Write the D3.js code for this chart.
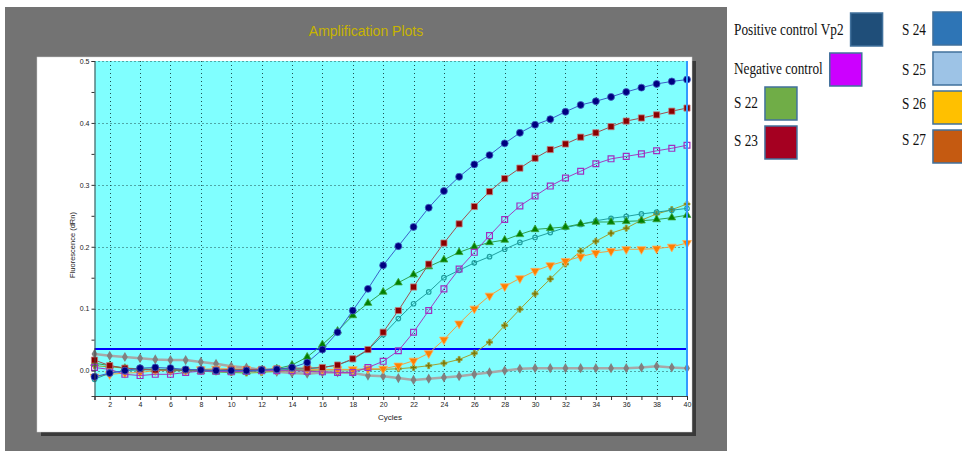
<!DOCTYPE html>
<html>
<head>
<meta charset="utf-8">
<script src="https://cdn.jsdelivr.net/npm/d3@7"></script>
<style>
  html, body { margin: 0; padding: 0; background: #ffffff; }
  svg { display: block; }
</style>
</head>
<body>
<svg id="chart" width="962" height="451"></svg>
<script>
// Amplification plot: fluorescence (dRn) per cycle for each well
const cycles = d3.range(1, 41);

const posCtrlVp2 = [-0.010,-0.004,0.000,0.004,0.005,0.004,0.002,0.001,0.000,0.000,
  0.000,0.001,0.002,0.005,0.013,0.034,0.062,0.097,0.132,0.170,
  0.201,0.232,0.263,0.290,0.313,0.333,0.348,0.367,0.384,0.397,
  0.406,0.418,0.429,0.435,0.442,0.450,0.457,0.463,0.467,0.470];
const negCtrl = [0.027,0.024,0.022,0.020,0.018,0.017,0.017,0.014,0.011,0.007,
  0.005,0.001,-0.002,-0.004,-0.005,-0.003,-0.003,-0.004,-0.008,-0.009,
  -0.012,-0.015,-0.013,-0.011,-0.009,-0.006,-0.003,0.000,0.003,0.004,
  0.004,0.004,0.004,0.004,0.004,0.004,0.005,0.007,0.005,0.004];
const s22 = [0.012,0.008,0.004,0.003,0.002,0.001,0.000,-0.001,-0.002,-0.002,
  -0.002,0.000,0.003,0.009,0.022,0.042,0.064,0.089,0.109,0.127,
  0.142,0.155,0.168,0.179,0.191,0.200,0.207,0.211,0.220,0.228,
  0.230,0.232,0.237,0.240,0.240,0.241,0.242,0.244,0.247,0.251];
const s23 = [0.017,0.008,0.004,0.002,0.001,0.001,0.001,0.001,0.001,0.002,
  0.002,0.002,0.003,0.004,0.004,0.005,0.009,0.019,0.034,0.062,
  0.097,0.135,0.172,0.206,0.237,0.265,0.289,0.310,0.327,0.343,
  0.357,0.366,0.377,0.384,0.394,0.403,0.408,0.413,0.419,0.424];
const s24 = [-0.014,-0.004,0.000,0.001,0.002,0.002,0.001,0.001,0.000,0.000,
  0.000,0.001,0.001,0.002,0.003,0.005,0.009,0.018,0.033,0.058,
  0.084,0.108,0.127,0.150,0.162,0.174,0.184,0.196,0.207,0.215,
  0.223,0.231,0.236,0.242,0.246,0.249,0.253,0.256,0.259,0.262];
const s25 = [0.005,0.002,-0.006,-0.008,-0.006,-0.006,-0.003,-0.001,-0.001,-0.002,
  -0.001,0.000,0.000,0.000,-0.001,-0.002,-0.003,-0.003,0.005,0.015,
  0.032,0.062,0.097,0.132,0.164,0.191,0.218,0.244,0.266,0.282,
  0.298,0.311,0.322,0.334,0.342,0.346,0.350,0.355,0.359,0.364];
const s26 = [-0.010,-0.006,-0.004,-0.003,0.000,0.000,0.000,0.002,0.003,0.003,
  0.002,0.001,0.002,0.002,0.002,0.002,0.002,0.002,0.003,0.003,
  0.008,0.016,0.028,0.050,0.076,0.100,0.121,0.136,0.149,0.161,
  0.170,0.177,0.184,0.190,0.193,0.196,0.196,0.197,0.200,0.206];
const s27 = [0.008,0.006,0.004,0.002,0.001,0.000,0.000,-0.001,-0.002,-0.003,
  -0.004,-0.003,-0.001,0.000,0.000,0.001,0.001,0.001,0.002,0.002,
  0.003,0.005,0.008,0.012,0.018,0.028,0.046,0.073,0.099,0.124,
  0.148,0.172,0.193,0.209,0.222,0.230,0.243,0.253,0.260,0.269];

const threshold = 0.035;
const yTickValues = [0.0, 0.1, 0.2, 0.3, 0.4, 0.5];
const yMinorValues = [0.05, 0.15, 0.25, 0.35, 0.45];
const xTickLabels = d3.range(2, 41, 2);

const legendLabels = ["Positive control Vp2", "Negative control", "S 22", "S 23",
                      "S 24", "S 25", "S 26", "S 27"];
const legendColors = ["#1f4e79", "#cc00ff", "#70ad47", "#a50021",
                      "#2e75b6", "#9dc3e6", "#ffc000", "#c55a11"];

// trace styles, drawn back to front
const traces = [
  { values: negCtrl,    line: "#a8a8a8", lw: 2.5, marker: "diamond", fill: "#808080", stroke: "none" },
  { values: s27,        line: "#a0a030", lw: 1,   marker: "cross",   fill: "#7a7a00", stroke: "#a0a040" },
  { values: s26,        line: "#f0a040", lw: 1,   marker: "down",    fill: "#ff8000", stroke: "#ffb060" },
  { values: s24,        line: "#20a0a0", lw: 1,   marker: "ocircle", fill: "none",    stroke: "#20a0a0" },
  { values: s22,        line: "#30a050", lw: 1,   marker: "up",      fill: "#008000", stroke: "#40a040" },
  { values: s25,        line: "#a040c0", lw: 1,   marker: "osquare", fill: "none",    stroke: "#a030c0" },
  { values: s23,        line: "#a05050", lw: 1,   marker: "square",  fill: "#8b0000", stroke: "#c08080" },
  { values: posCtrlVp2, line: "#3a5fc8", lw: 1,   marker: "circle",  fill: "#000080", stroke: "#4060c0" }
];

const svg = d3.select("#chart");

// page background and chart panel
svg.append("rect").attr("x", 0).attr("y", 0).attr("width", 962).attr("height", 451).attr("fill", "#ffffff");
svg.append("rect").attr("x", 5).attr("y", 7).attr("width", 722).attr("height", 444).attr("fill", "#737373");
svg.append("rect").attr("x", 41).attr("y", 61).attr("width", 655).attr("height", 375).attr("fill", "#3a3a3a");
svg.append("rect").attr("x", 37).attr("y", 57).attr("width", 655).attr("height", 375)
  .attr("fill", "#ffffff").attr("stroke", "#d0d0d0").attr("stroke-width", 0.5);

svg.append("text").attr("x", 366).attr("y", 36).attr("text-anchor", "middle")
  .attr("font-family", "Liberation Sans, Arial, sans-serif").attr("font-size", 14)
  .attr("fill", "#c8b400").text("Amplification Plots");

const plotL = 94.5, plotR = 687, plotT = 61, plotB = 396;
const x = d3.scaleLinear().domain([1, 40]).range([plotL, plotR]);
const y = d3.scaleLinear().domain([-0.041, 0.5]).range([plotB, plotT]);

// plot background
svg.append("rect").attr("x", plotL).attr("y", plotT).attr("width", plotR - plotL).attr("height", plotB - plotT)
  .attr("fill", "#80ffff");

// dotted grid
const grid = svg.append("g").attr("stroke", "#1e5050").attr("stroke-width", 1).attr("stroke-dasharray", "1,3");
grid.selectAll("line.v").data(xTickLabels.filter(d => d < 40)).join("line").attr("class", "v")
  .attr("x1", d => Math.round(x(d)) + 0.5).attr("x2", d => Math.round(x(d)) + 0.5)
  .attr("y1", plotT).attr("y2", plotB);
grid.selectAll("line.h").data(yTickValues).join("line").attr("class", "h")
  .attr("x1", plotL).attr("x2", plotR)
  .attr("y1", d => Math.round(y(d)) + 0.5).attr("y2", d => Math.round(y(d)) + 0.5);

// threshold
svg.append("line").attr("x1", plotL).attr("x2", plotR)
  .attr("y1", y(threshold)).attr("y2", y(threshold))
  .attr("stroke", "#0000ff").attr("stroke-width", 2);

// traces
const lineGen = d3.line().x((d, i) => x(cycles[i])).y(d => y(d));
const sym = {
  diamond: d3.symbol().type(d3.symbolDiamond).size(30),
  cross: d3.symbol().type(d3.symbolCross).size(20),
  up: d3.symbol().type(d3.symbolTriangle).size(26),
  down: d3.symbol().type(d3.symbolTriangle).size(34),
  square: d3.symbol().type(d3.symbolSquare).size(38),
  osquare: d3.symbol().type(d3.symbolSquare).size(34),
  circle: d3.symbol().type(d3.symbolCircle).size(38),
  ocircle: d3.symbol().type(d3.symbolCircle).size(16)
};
traces.forEach(t => {
  const g = svg.append("g");
  g.append("path").attr("d", lineGen(t.values)).attr("fill", "none")
    .attr("stroke", t.line).attr("stroke-width", t.lw);
  g.selectAll("path.m").data(t.values).join("path").attr("class", "m")
    .attr("d", sym[t.marker]())
    .attr("transform", (d, i) => {
      const rot = t.marker === "down" ? " rotate(180)" : "";
      return `translate(${x(cycles[i])},${y(d)})${rot}`;
    })
    .attr("fill", t.fill).attr("stroke", t.stroke)
    .attr("stroke-width", t.fill === "none" ? 1.2 : 0.8);
});

// right border of the plot
svg.append("line").attr("x1", plotR).attr("x2", plotR).attr("y1", plotT).attr("y2", plotB)
  .attr("stroke", "#3399ff").attr("stroke-width", 2);

// axes
const font = "Liberation Sans, Arial, sans-serif";
svg.append("g").attr("transform", `translate(${plotL},0)`)
  .call(d3.axisLeft(y).tickValues(yTickValues).tickFormat(d3.format(".1f")).tickSize(3).tickPadding(2));
svg.append("g").attr("transform", `translate(${plotL},0)`)
  .call(d3.axisLeft(y).tickValues(yMinorValues).tickFormat("").tickSize(3))
  .select(".domain").remove();
svg.append("g").attr("transform", `translate(0,${plotB})`)
  .call(d3.axisBottom(x).tickValues(cycles).tickFormat(d => d % 2 === 0 ? d : "").tickSize(4).tickPadding(2));
svg.selectAll(".domain").attr("stroke", "#404040");
svg.selectAll(".tick line").attr("stroke", "#303030");
svg.selectAll(".tick text").attr("font-family", font).attr("font-size", 7).attr("fill", "#222");

svg.append("text").attr("x", 390).attr("y", 420).attr("text-anchor", "middle")
  .attr("font-family", font).attr("font-size", 8).attr("fill", "#222").text("Cycles");
svg.append("text").attr("transform", "translate(75,245) rotate(-90)").attr("text-anchor", "middle")
  .attr("font-family", font).attr("font-size", 7.5).attr("fill", "#222").text("Fluorescence (dRn)");

// legend: two columns of label + swatch
const legendPos = [
  [734, 35, 13], [734, 74, 53], [734, 108, 87], [734, 146, 126],
  [902, 35, 12], [902, 75, 52], [902, 109, 91], [902, 145, 130]
];
legendLabels.forEach((lab, i) => {
  const [lx, ly, sy] = legendPos[i];
  const g = svg.append("g").attr("transform", `translate(${lx},${ly}) scale(0.83,1)`);
  const t = g.append("text").attr("x", 0).attr("y", 0)
    .attr("font-family", "Liberation Serif, Times New Roman, serif").attr("font-size", 16)
    .attr("fill", "#111").text(lab);
  const w = t.node().getComputedTextLength() * 0.83;
  svg.append("rect").attr("x", lx + w + 7).attr("y", sy).attr("width", 32).attr("height", 33)
    .attr("fill", legendColors[i]).attr("stroke", "#41719c").attr("stroke-width", 1.5);
});
</script>
</body>
</html>
